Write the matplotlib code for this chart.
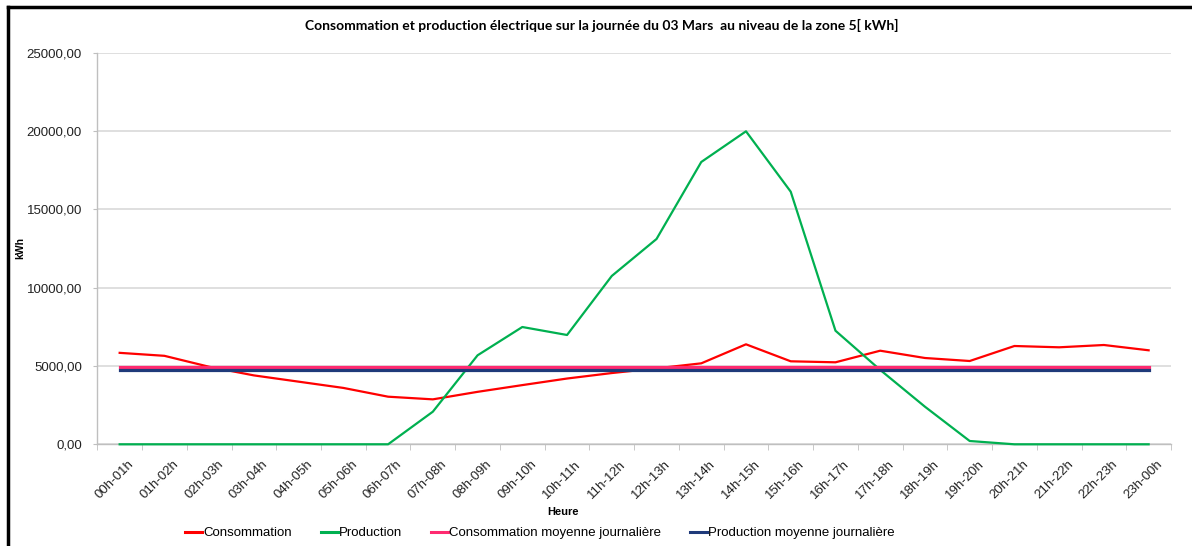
import numpy as np
import matplotlib
matplotlib.use("Agg")
import matplotlib.pyplot as plt
import matplotlib.transforms as mtrans
from matplotlib.lines import Line2D
from matplotlib.ticker import FixedLocator, FuncFormatter

# Data (kWh per hour slot)
heures = ["00h-01h", "01h-02h", "02h-03h", "03h-04h", "04h-05h", "05h-06h",
          "06h-07h", "07h-08h", "08h-09h", "09h-10h", "10h-11h", "11h-12h",
          "12h-13h", "13h-14h", "14h-15h", "15h-16h", "16h-17h", "17h-18h",
          "18h-19h", "19h-20h", "20h-21h", "21h-22h", "22h-23h", "23h-00h"]
consommation = [5840, 5650, 4950, 4400, 4000, 3600, 3040, 2870, 3350, 3780, 4200, 4550,
                4850, 5170, 6385, 5300, 5236, 5977, 5511, 5319, 6277, 6194, 6341, 6003]
production = [0, 0, 0, 0, 0, 0, 0, 2082, 5683, 7490, 6980, 10750,
              13110, 18027, 19987, 16130, 7254, 4750, 2401, 211, 0, 0, 0, 0]
conso_moyenne = 4940
prod_moyenne = 4770

noms = ["Consommation", "Production", "Consommation moyenne journalière",
        "Production moyenne journalière"]
couleurs = ["#FF0000", "#00B050", "#FF2A70", "#1F3A7A"]

plt.rcParams['font.family'] = ['Liberation Sans', 'DejaVu Sans']

W, H = 1192, 546
fig = plt.figure(figsize=(W / 100, H / 100), dpi=100)
ax = fig.add_axes([97.3 / W, 1 - 444.3 / H, (1171 - 97.3) / W, (444.3 - 52.8) / H])

x = np.arange(len(heures))
n = len(heures)

# series drawn in Excel order: later ones on top
ax.plot(x, consommation, color=couleurs[0], lw=1.6, zorder=3, clip_on=False)
ax.plot(x, production, color=couleurs[1], lw=1.6, zorder=4, clip_on=False)
ax.plot(x, [conso_moyenne] * n, color=couleurs[2], lw=2.3, zorder=5)
ax.plot(x, [prod_moyenne] * n, color=couleurs[3], lw=2.3, zorder=6)

ax.set_xlim(-0.5, n - 0.5)
ax.set_ylim(0, 25000)

# y axis
ax.yaxis.set_major_locator(FixedLocator(np.arange(0, 25001, 5000)))
ax.yaxis.set_major_formatter(FuncFormatter(lambda v, p: f"{v:.2f}".replace(".", ",")))
ax.tick_params(axis='y', length=3, color="#BFBFBF", pad=8, labelsize=9.5, labelcolor="#222222")
ax.grid(axis='y', color="#D9D9D9", lw=1.2)
ax.set_axisbelow(True)

# x axis: labels under points, tick marks between categories
ax.set_xticks(x)
ax.set_xticklabels(heures, rotation=45, ha='right', rotation_mode='anchor', fontsize=9.5,
                   color="#222222")
ax.set_xticks(np.arange(-0.5, n, 1), minor=True)
ax.tick_params(axis='x', which='major', length=0, pad=10)
ax.tick_params(axis='x', which='minor', length=4, color="#BFBFBF")
off = mtrans.ScaledTranslation(8 / 100, 0, fig.dpi_scale_trans)
for lab in ax.get_xticklabels():
    lab.set_transform(lab.get_transform() + off)

for s in ["top", "right"]:
    ax.spines[s].set_visible(False)
for s in ["left", "bottom"]:
    ax.spines[s].set_color("#BFBFBF")
    ax.spines[s].set_linewidth(1.0)
    ax.spines[s].set_zorder(1)

fig.text(20 / W, 1 - 248 / H, "kWh", rotation=90, fontsize=7.5, fontweight='bold',
         ha='center', va='center')
fig.text(563 / W, 1 - 512 / H, "Heure", fontsize=8, fontweight='bold', ha='center', va='center')
fig.text(602 / W, 1 - 25 / H,
         "Consommation et production électrique sur la journée du 03 Mars  au niveau de la zone 5[ kWh]",
         fontsize=10, fontweight='bold', ha='center', va='center',
         family=['Lato', 'DejaVu Sans'])

handles = [Line2D([], [], color=c, lw=2.2) for c in couleurs]
fig.legend(handles, noms, loc='center', bbox_to_anchor=(540 / W, 1 - 533 / H), ncol=4,
           frameon=False, fontsize=9.5, handlelength=1.3, handletextpad=0.1,
           columnspacing=2.15, borderpad=0)

# black frame on the top and left edges
fig.add_artist(Line2D([8 / W, 8 / W], [0, 1 - 7 / H], color="black", lw=2.5,
                      transform=fig.transFigure))
fig.add_artist(Line2D([8 / W, 1], [1 - 7 / H, 1 - 7 / H], color="black", lw=2.5,
                      transform=fig.transFigure))

fig.savefig("out.png", dpi=100)
